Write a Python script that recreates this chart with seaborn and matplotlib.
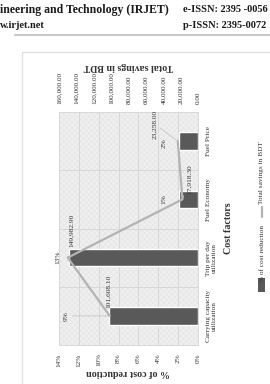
import matplotlib
matplotlib.use("Agg")
import numpy as np
import pandas as pd
import seaborn as sns
import matplotlib.pyplot as plt
from matplotlib.patches import Rectangle
from matplotlib.lines import Line2D


#%% Data
factors     = ["Carrying capacity\nutilization", "Trip per day\nutilization", "Fuel Economy", "Fuel Price"]
pct_cost    = [9.0, 13.0, 1.9, 1.9]
pct_labels  = ["9%", "13%", "1%", "2%"]
savings     = [101608.10, 149982.90, 17918.30, 23258.00]
sav_labels  = ["101,608.10", "149,982.90", "17,918.30", "23,258.00"]

pct_ticks   = [0, 2, 4, 6, 8, 10, 12, 14]
sav_ticks   = [0, 20000, 40000, 60000, 80000, 100000, 120000, 140000, 160000]


#%% Style
sns.set_style("white")
plt.rcParams["font.family"] = ["Liberation Serif", "DejaVu Serif"]
plt.rcParams["hatch.linewidth"] = 0.3

Bar_Color   = "#595959"
Line_Color  = "#b3b3b3"
Grid_Color  = "#d4d4d4"
Text_Color  = "#333333"
Lead_Color  = "#c4c4c4"

FontSize_Tick   = 5.2
FontSize_Label  = 7.2
FontSize_Data   = 5.3

W, H = 270, 384

Fig = plt.figure(figsize=[W / 100, H / 100], dpi=100)

# plot area in pixels (image is the chart turned a quarter turn)
px_left, px_right, px_top, px_bottom = 59, 198, 112, 345
ax = Fig.add_axes([px_left / W, 1 - px_bottom / H,
                   (px_right - px_left) / W, (px_bottom - px_top) / H])

# textured background
ax.add_patch(Rectangle((0, 0), 1, 1, transform=ax.transAxes, facecolor="#efefef",
                       edgecolor="#e0e0e0", hatch="xxxxxx", linewidth=0, zorder=0))

df = pd.DataFrame({"factor": factors, "pct": pct_cost})
order = factors[::-1]

sns.barplot(data=df, x="pct", y="factor", order=order, orient="h",
            color=Bar_Color, saturation=1, width=0.3, ax=ax, zorder=2)

ypos = [order.index(f) for f in factors]

ax2 = ax.twiny()
sns.lineplot(x=savings, y=ypos, ax=ax2, sort=False, estimator=None,
             color=Line_Color, linewidth=1.6, zorder=3)


# % axis (bottom, reversed)
ax.set_xlim(14, 0)
ax.set_xticks(pct_ticks)
ax.set_xticklabels(["%d%%" % t for t in pct_ticks], rotation=90,
                   fontsize=FontSize_Tick, color=Text_Color)
ax.set_xlabel("% of cost reduction", rotation=180, fontsize=FontSize_Label,
              fontweight="bold", color=Text_Color, labelpad=1)

# categories (right side)
ax.yaxis.tick_right()
ax.yaxis.set_label_position("right")
ax.set_yticks(range(len(order)))
ax.set_yticklabels(order, rotation=90, ha="left", va="center",
                   multialignment="center", fontsize=FontSize_Tick, color=Text_Color)
ax.set_ylabel("Cost factors", rotation=90, fontsize=FontSize_Label,
              fontweight="bold", color=Text_Color, labelpad=5)
ax.set_yticks([0.5, 1.5, 2.5], minor=True)

ax.set_axisbelow(True)
ax.grid(axis="x", which="major", color=Grid_Color, linewidth=0.6)
ax.grid(axis="y", which="minor", color=Grid_Color, linewidth=0.6)
ax.tick_params(which="both", length=0, pad=6)

# savings axis (top, reversed)
ax2.set_xlim(160000, 0)
ax2.set_xticks(sav_ticks)
ax2.set_xticklabels(["{:,.2f}".format(t) for t in sav_ticks], rotation=90,
                    fontsize=FontSize_Tick, color=Text_Color)
ax2.set_xlabel("Total savings in BDT", rotation=180, fontsize=FontSize_Label,
               fontweight="bold", color=Text_Color, labelpad=2)
ax2.tick_params(length=0, pad=6)
ax2.grid(False)

ax.set_ylim(len(order) - 0.5, -0.5)

for a in [ax, ax2]:
    for s in a.spines.values():
        s.set_color("#d9d9d9")
        s.set_linewidth(0.6)


# data labels: % of cost reduction
pct_offsets = [(-42, 0), (-11, 0), (-15, 0), (-15, -2)]
for v, p, lbl, off in zip(pct_cost, ypos, pct_labels, pct_offsets):
    lead = dict(arrowstyle="-", color=Lead_Color, lw=0.6, shrinkA=0, shrinkB=0) if abs(off[0]) > 20 else None
    ax.annotate(lbl, xy=(v, p), xytext=off, textcoords="offset pixels",
                rotation=90, ha="center", va="center", fontsize=FontSize_Data,
                color=Text_Color, arrowprops=lead, zorder=5)

# data labels: savings
sav_offsets = [(-2, 25), (4, 27), (7, 20), (-23, 17)]
sav_leads   = [False, False, True, True]
for v, p, lbl, off, ld in zip(savings, ypos, sav_labels, sav_offsets, sav_leads):
    lead = dict(arrowstyle="-", color=Lead_Color, lw=0.6, shrinkA=0, shrinkB=0) if ld else None
    ax2.annotate(lbl, xy=(v, p), xytext=off, textcoords="offset pixels",
                 rotation=90, ha="center", va="center", fontsize=FontSize_Data,
                 color=Text_Color, arrowprops=lead, zorder=5)


# legend (drawn by hand, turned like the chart)
Fig.add_artist(Rectangle((258 / W, 1 - 292 / H), 7 / W, 14 / H, transform=Fig.transFigure,
                         facecolor=Bar_Color, edgecolor="none"))
Fig.text(262 / W, 1 - 253 / H, "% of cost reduction", rotation=90, ha="center", va="center",
         fontsize=FontSize_Tick, color=Text_Color)
Fig.add_artist(Line2D([262 / W, 262 / W], [1 - 217 / H, 1 - 207 / H], transform=Fig.transFigure,
                      color=Line_Color, linewidth=1.6))
Fig.text(262 / W, 1 - 173 / H, "Total savings in BDT", rotation=90, ha="center", va="center",
         fontsize=FontSize_Tick, color=Text_Color)


# page header and frame
Fig.text(0, 1 - 10 / H, "ineering and Technology (IRJET)", ha="left", va="center",
         fontsize=8.5, fontweight="bold", color="#1a1a1a")
Fig.text(183 / W, 1 - 10 / H, "e-ISSN: 2395 -0056", ha="left", va="center",
         fontsize=7.5, fontweight="bold", color="#1a1a1a")
Fig.text(0, 1 - 25 / H, "w.irjet.net", ha="left", va="center",
         fontsize=7.5, fontweight="bold", color="#1a1a1a")
Fig.text(183 / W, 1 - 25 / H, "p-ISSN: 2395-0072", ha="left", va="center",
         fontsize=7.5, fontweight="bold", color="#1a1a1a")

Fig.add_artist(Line2D([15 / W, 1], [1 - 35 / H, 1 - 35 / H], transform=Fig.transFigure,
                      color="#c8c8c8", linewidth=1.5))
Fig.add_artist(Line2D([22 / W, 22 / W], [0, 1 - 52 / H], transform=Fig.transFigure,
                      color="#e2e2e2", linewidth=1))
Fig.add_artist(Line2D([22 / W, 1], [1 - 52 / H, 1 - 52 / H], transform=Fig.transFigure,
                      color="#e2e2e2", linewidth=1))


Fig.savefig("out.png", dpi=100)
